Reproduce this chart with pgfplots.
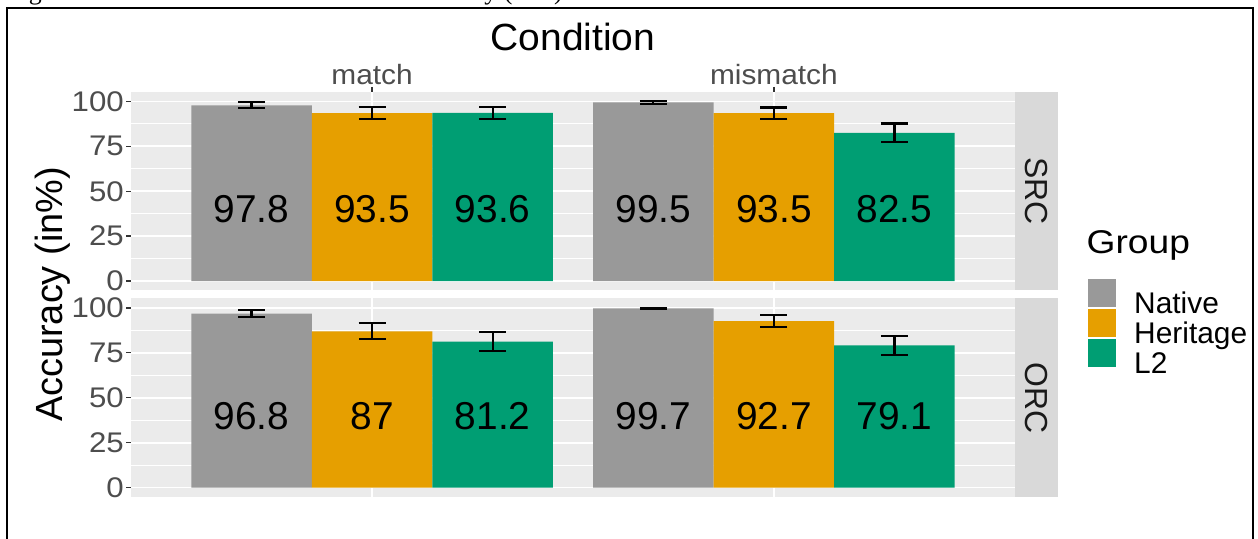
\documentclass[border=0pt]{standalone}
\usepackage{pgfplots}
\usepackage{pgfplotstable}
\usepackage{fontspec}
\usepackage{graphicx}
\pgfplotsset{compat=1.18}
\usetikzlibrary{calc}
\setmainfont{Liberation Sans}
\newfontfamily\capfont{Liberation Serif}

\definecolor{native}{HTML}{999999}
\definecolor{heritage}{HTML}{E69F00}
\definecolor{ltwo}{HTML}{009E73}
\definecolor{panelbg}{HTML}{EBEBEB}
\definecolor{stripbg}{HTML}{D9D9D9}
\definecolor{ticklab}{HTML}{4D4D4D}
\definecolor{tickcol}{HTML}{333333}
\definecolor{striptext}{HTML}{1A1A1A}

% Accuracy (in %) and half-width of the error bar, per condition
% (pos 1 = match, pos 2 = mismatch)
\pgfplotstableread{
pos Native NativeErr Heritage HeritageErr L2 L2Err
1 97.8 1.7 93.5 3.3 93.6 3.3
2 99.5 0.7 93.5 3.1 82.5 5.2
}\srcdata
\pgfplotstableread{
pos Native NativeErr Heritage HeritageErr L2 L2Err
1 96.8 1.9 87.0 4.4 81.2 5.2
2 99.7 0.3 92.7 3.5 79.1 5.4
}\orcdata

\newcommand{\fs}[1]{\fontsize{#1}{#1}\selectfont}
\newcommand{\wide}[2]{\scalebox{#1}[1]{#2}}

\pgfplotsset{
  facet/.style={
    scale only axis, width=884bp, height=198.5bp,
    xmin=0.4, xmax=2.6, ymin=-5.25, ymax=105.25,
    xtick={1,2}, ytick={0,25,50,75,100},
    minor ytick={12.5,37.5,62.5,87.5},
    grid=both,
    major grid style={white, line width=1.8bp},
    minor grid style={white, line width=0.9bp},
    axis background/.style={fill=panelbg},
    axis line style={draw=none},
    tick align=outside,
    major tick length=5bp, minor tick length=0pt,
    tick style={tickcol, line width=1.3bp},
    ytick pos=left,
    yticklabel={\wide{1.1}{\pgfmathprintnumber{\tick}}},
    yticklabel style={font=\fs{28.5}, text=ticklab, inner xsep=2bp},
    /pgf/number format/assume math mode=true,
    bar width=0.3,
    clip=false,
  },
  key/.style={legend image code/.code={\fill[##1] (0bp,-3.5bp) rectangle (28bp,24.5bp);}},
  errs/.style={error bars/.cd, y dir=both, y explicit,
    error bar style={black, line width=2.1bp},
    error mark options={rotate=90, black, mark size=13.5bp, line width=2.1bp}},
  vlabel/.style={ybar, bar shift=0, draw=none, fill=none, forget plot,
    point meta=explicit,
    nodes near coords={\pgfmathprintnumber{\pgfplotspointmeta}},
    nodes near coords style={font=\fs{39}, anchor=center, text=black}},
}

\begin{document}
\begin{tikzpicture}[x=1bp, y=1bp]
\useasboundingbox (0,0) rectangle (1258,539);
\clip (0,0) rectangle (1258,539);

% caption line and frame of the figure
\node[font=\capfont\fs{26}, anchor=base west, inner sep=0pt] at (7,539.5) {Figure 4.};
\node[font=\capfont\fs{26}, anchor=base east, inner sep=0pt] at (563,539.5) {Accuracy (in\%)};
\draw[line width=2bp] (7,-10) -- (7,531) -- (1253,531) -- (1253,-10);

% SRC panel
\begin{axis}[facet, name=srcax, at={(131bp,248.5bp)}, anchor=south west,
  xtick pos=right, xticklabel pos=right,
  xticklabels={\wide{1.07}{match},\wide{1.07}{mismatch}},
  xticklabel style={font=\fs{28}, text=ticklab, inner ysep=2bp}]
\addplot[ybar, bar shift=0, fill=native, draw=none, errs]
  table[x expr=\thisrow{pos}-0.3, y=Native, y error=NativeErr] {\srcdata};
\addplot[ybar, bar shift=0, fill=heritage, draw=none, errs]
  table[x=pos, y=Heritage, y error=HeritageErr] {\srcdata};
\addplot[ybar, bar shift=0, fill=ltwo, draw=none, errs]
  table[x expr=\thisrow{pos}+0.3, y=L2, y error=L2Err] {\srcdata};
\addplot[vlabel] table[x expr=\thisrow{pos}-0.3, y expr=40, meta=Native] {\srcdata};
\addplot[vlabel] table[x=pos, y expr=40, meta=Heritage] {\srcdata};
\addplot[vlabel] table[x expr=\thisrow{pos}+0.3, y expr=40, meta=L2] {\srcdata};
\end{axis}

% ORC panel
\begin{axis}[facet, name=orcax, at={(131bp,42bp)}, anchor=south west,
  xticklabels={}, xtick style={draw=none},
  legend style={at={(1.08258,1.0982)}, anchor=north west, draw=none, fill=none,
    font=\fs{30}, inner sep=0pt, row sep=-6bp, column sep=18bp,
    nodes={inner sep=0pt}},
  legend cell align=left]
\addplot[ybar, bar shift=0, fill=native, draw=none, key, errs]
  table[x expr=\thisrow{pos}-0.3, y=Native, y error=NativeErr] {\orcdata};
\addlegendentry{Native}
\addplot[ybar, bar shift=0, fill=heritage, draw=none, key, errs]
  table[x=pos, y=Heritage, y error=HeritageErr] {\orcdata};
\addlegendentry{Heritage}
\addplot[ybar, bar shift=0, fill=ltwo, draw=none, key, errs]
  table[x expr=\thisrow{pos}+0.3, y=L2, y error=L2Err] {\orcdata};
\addlegendentry{L2}
\addplot[vlabel] table[x expr=\thisrow{pos}-0.3, y expr=40, meta=Native] {\orcdata};
\addplot[vlabel] table[x=pos, y expr=40, meta=Heritage] {\orcdata};
\addplot[vlabel] table[x expr=\thisrow{pos}+0.3, y expr=40, meta=L2] {\orcdata};
\end{axis}

% row strips
\fill[stripbg] (srcax.south east) rectangle ([xshift=43bp]srcax.north east);
\fill[stripbg] (orcax.south east) rectangle ([xshift=43bp]orcax.north east);
\node[rotate=-90, font=\fs{32}, text=striptext] at ([xshift=21.5bp]$(srcax.south east)!0.5!(srcax.north east)$) {SRC};
\node[rotate=-90, font=\fs{32}, text=striptext] at ([xshift=21.5bp]$(orcax.south east)!0.5!(orcax.north east)$) {ORC};

% titles
\node[anchor=base, font=\fs{38}, inner sep=0pt] at (573,488) {\wide{1.03}{Condition}};
\node[anchor=base, rotate=90, font=\fs{38}, inner sep=0pt] at (62,244.5) {Accuracy (in\%)};
\node[anchor=base west, font=\fs{33}, inner sep=0pt] at (1086.5,285.7) {\wide{1.13}{Group}};
\end{tikzpicture}
\end{document}
